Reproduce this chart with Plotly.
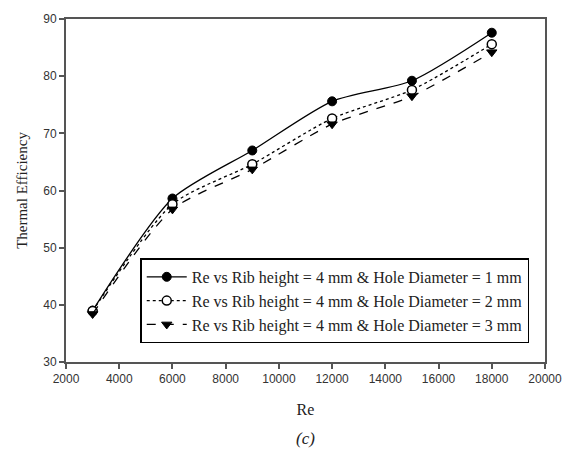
import plotly.graph_objects as go

re_values = [3000, 6000, 9000, 12000, 15000, 18000]
eff_hd1 = [39.0, 58.6, 67.0, 75.6, 79.2, 87.6]
eff_hd2 = [38.9, 57.6, 64.6, 72.6, 77.6, 85.6]
eff_hd3 = [38.4, 56.7, 63.7, 71.6, 76.5, 84.2]
names = [
    "Re vs Rib height = 4 mm & Hole Diameter = 1 mm",
    "Re vs Rib height = 4 mm & Hole Diameter = 2 mm",
    "Re vs Rib height = 4 mm & Hole Diameter = 3 mm",
]
x_ticks = [2000, 4000, 6000, 8000, 10000, 12000, 14000, 16000, 18000, 20000]
x_tick_labels = [str(v) for v in x_ticks]
y_ticks = [30, 40, 50, 60, 70, 80, 90]

serif = "Liberation Serif, Times New Roman, serif"
sans = "Liberation Sans, Arial, sans-serif"

fig = go.Figure()
fig.add_trace(go.Scatter(
    x=re_values, y=eff_hd1, name=names[0], mode="lines+markers",
    line=dict(color="black", width=1.3, shape="spline", smoothing=0.7),
    marker=dict(symbol="circle", size=9, color="black", line=dict(color="black", width=1)),
))
fig.add_trace(go.Scatter(
    x=re_values, y=eff_hd2, name=names[1], mode="lines+markers",
    line=dict(color="black", width=1.3, dash="dot", shape="spline", smoothing=0.7),
    marker=dict(symbol="circle", size=9, color="white", line=dict(color="black", width=1.5)),
))
fig.add_trace(go.Scatter(
    x=re_values, y=eff_hd3, name=names[2], mode="lines+markers",
    line=dict(color="black", width=1.3, dash="dash", shape="spline", smoothing=0.7),
    marker=dict(symbol="triangle-down", size=9, color="black", line=dict(color="black", width=1)),
))

axis_common = dict(
    showline=True, linecolor="#555555", linewidth=2, mirror=True,
    ticks="outside", ticklen=5, tickwidth=1.5, tickcolor="#555555",
    showgrid=False, zeroline=False,
    tickfont=dict(family=sans, size=12, color="#333333"),
)

fig.update_layout(
    width=574, height=455,
    margin=dict(l=66, r=19, t=17, b=93),
    paper_bgcolor="white", plot_bgcolor="white",
    xaxis=dict(range=[2000, 20000], tickvals=x_ticks, ticktext=x_tick_labels,
               title=dict(text="Re", font=dict(family=serif, size=16, color="#222222"), standoff=18),
               **axis_common),
    yaxis=dict(range=[30, 90], tickvals=y_ticks,
               title=dict(text="Thermal Efficiency", font=dict(family=serif, size=15, color="#222222"), standoff=12),
               **axis_common),
    legend=dict(
        x=0.155, y=0.302, xanchor="left", yanchor="top",
        bgcolor="white", bordercolor="black", borderwidth=1.5,
        font=dict(family=serif, size=16, color="#222222"),
        tracegroupgap=0, itemwidth=40,
    ),
    showlegend=True,
)

fig.add_annotation(
    text="<i>(c)</i>", x=0.5, y=-0.19, xref="paper", yref="paper",
    xanchor="center", yanchor="top", showarrow=False,
    font=dict(family=serif, size=17, color="#222222"),
)

fig.write_html("out.html")
